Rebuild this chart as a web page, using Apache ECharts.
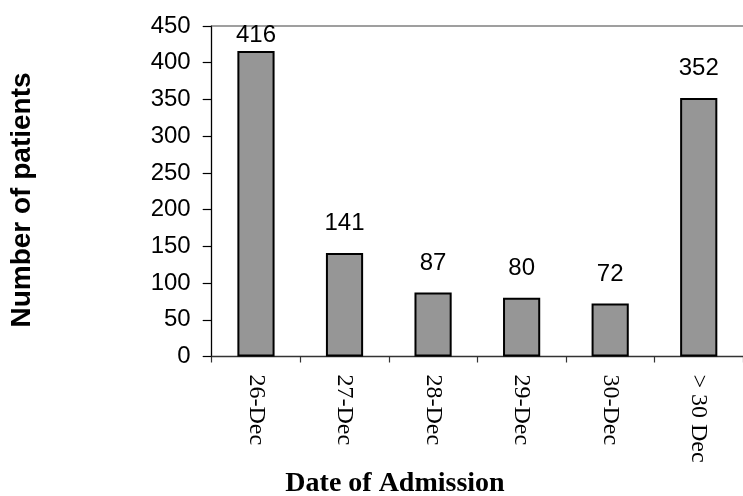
<!DOCTYPE html>
<html>
<head>
<meta charset="utf-8">
<script src="https://cdn.jsdelivr.net/npm/echarts@6/dist/echarts.min.js"></script>
<style>
  html, body { margin: 0; padding: 0; background: #fff; }
  #chart { width: 743px; height: 496px; }
</style>
</head>
<body>
<div id="chart"></div>
<script>
// Admissions by date
const categories = ['26-Dec', '27-Dec', '28-Dec', '29-Dec', '30-Dec', '> 30 Dec'];
const patients = [416, 141, 87, 80, 72, 352];
const yTicks = { min: 0, max: 450, step: 50 };

const SANS = '"Liberation Sans", Arial, sans-serif';
const SERIF = '"Liberation Serif", "Times New Roman", serif';

const gridTop = 26, gridBottom = 139.5, gridLeft = 211.7, gridRight = -9;
const plotH = 496 - gridTop - gridBottom;
const labelGap = 17.5, labelH = 21.5;

// value labels sit above each bar, but never rise past the plot's top edge
const barData = patients.map(v => {
  const room = ((yTicks.max - v) / (yTicks.max - yTicks.min)) * plotH - labelH;
  return { value: v, label: { distance: Math.max(2, Math.min(labelGap, room)) } };
});

const chart = echarts.init(document.getElementById('chart'));
chart.setOption({
  animation: false,
  backgroundColor: '#ffffff',
  grid: { left: gridLeft, right: gridRight, top: gridTop, bottom: gridBottom, containLabel: false },
  xAxis: [{
    type: 'category',
    data: categories,
    position: 'bottom',
    axisLine: { lineStyle: { color: '#333333', width: 1.3 } },
    axisTick: { show: true, alignWithLabel: false, length: 6, lineStyle: { color: '#333333', width: 1.2 } },
    axisLabel: {
      rotate: -90, margin: 18, color: '#000',
      fontFamily: SERIF, fontSize: 24
    },
    splitLine: { show: false }
  }, {
    type: 'category',
    data: categories,
    position: 'top',
    axisLine: { lineStyle: { color: '#808080', width: 1.5 } },
    axisTick: { show: false },
    axisLabel: { show: false }
  }],
  yAxis: {
    type: 'value',
    min: yTicks.min, max: yTicks.max, interval: yTicks.step,
    axisLine: { show: true, lineStyle: { color: '#000', width: 1.3 } },
    axisTick: { show: true, length: 9, lineStyle: { color: '#000', width: 1.2 } },
    axisLabel: { margin: 21, color: '#000', fontFamily: SANS, fontSize: 24 },
    splitLine: { show: false }
  },
  series: [{
    type: 'bar',
    data: barData,
    barWidth: '42%',
    itemStyle: { color: '#969696', borderColor: '#000', borderWidth: 2 },
    label: {
      show: true, position: 'top', color: '#000',
      fontFamily: SANS, fontSize: 24
    }
  }],
  graphic: [{
    type: 'text',
    x: 395, y: 484,
    style: {
      text: 'Date of Admission', fill: '#000',
      font: 'bold 28px ' + SERIF, textAlign: 'center', textVerticalAlign: 'middle'
    }
  }, {
    type: 'text',
    x: 22, y: 200,
    rotation: Math.PI / 2,
    style: {
      text: 'Number of patients', fill: '#000',
      font: 'bold 28px ' + SANS, textAlign: 'center', textVerticalAlign: 'middle'
    }
  }]
});
</script>
</body>
</html>
